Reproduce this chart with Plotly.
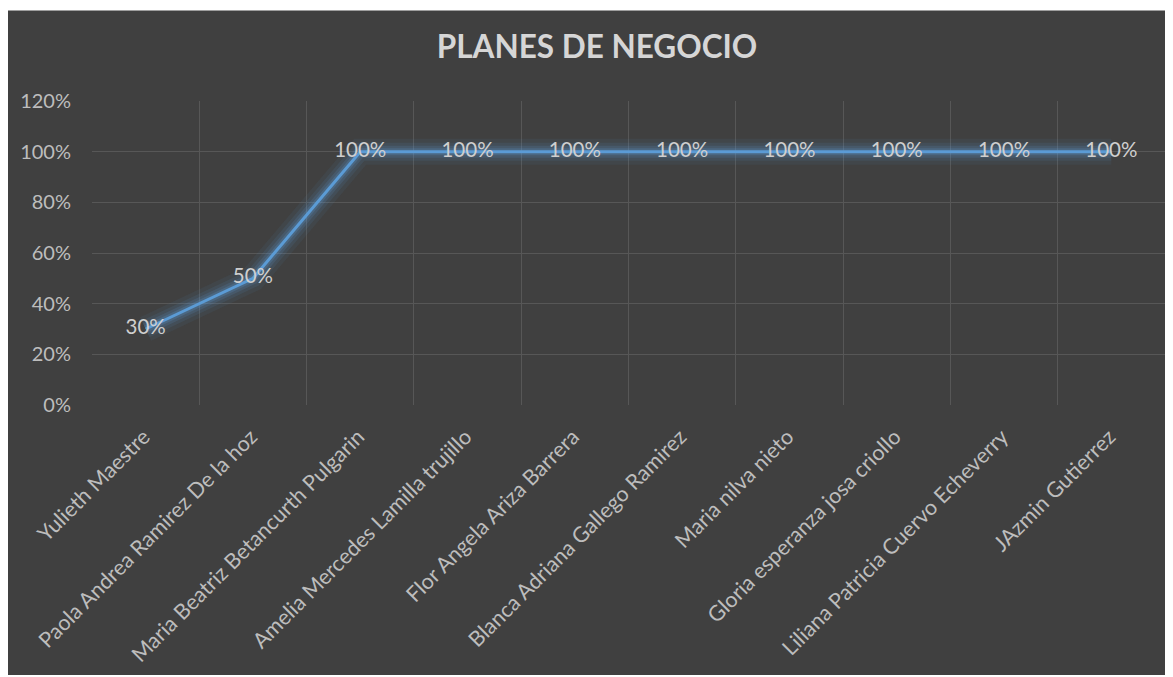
import plotly.graph_objects as go

names = ["Yulieth Maestre", "Paola Andrea Ramirez De la hoz", "Maria Beatriz Betancurth Pulgarin",
         "Amelia Mercedes Lamilla trujillo", "Flor Angela Ariza Barrera", "Blanca Adriana Gallego Ramirez",
         "Maria nilva nieto", "Gloria esperanza josa criollo", "Liliana Patricia Cuervo Echeverry",
         "JAzmin Gutierrez"]
values = [0.30, 0.50, 1.00, 1.00, 1.00, 1.00, 1.00, 1.00, 1.00, 1.00]
labels = [f"{round(v*100)}%" for v in values]

W, H = 1165, 667
ml, mr, mt, mb = 84, 8, 93, 268
pw, ph = W - ml - mr, H - mt - mb
BG = "#404040"
LINE = "#5B9BD5"
FONT = "Lato, Open Sans, sans-serif"

fig = go.Figure()
# glow layers
for w, a in [(26, 0.07), (18, 0.10), (12, 0.15), (7, 0.22)]:
    fig.add_trace(go.Scatter(x=names, y=values, mode="lines",
                             line=dict(color=f"rgba(91,155,213,{a})", width=w),
                             hoverinfo="skip", showlegend=False))
fig.add_trace(go.Scatter(x=names, y=values, mode="lines+text", text=labels,
                         textposition="middle center",
                         textfont=dict(family=FONT, size=20.5, color="#cfcfcf"),
                         line=dict(color=LINE, width=3), showlegend=False))

fig.update_layout(
    width=W, height=H,
    margin=dict(l=ml, r=mr, t=mt, b=mb),
    paper_bgcolor="white", plot_bgcolor=BG,
    title=dict(text="<b>PLANES DE NEGOCIO</b>", x=589 / W, xanchor="center",
               y=1 - 39 / H, yanchor="middle",
               font=dict(family=FONT, size=31.5, color="#d6d6d6")),
    xaxis=dict(type="category", tickson="boundaries", showgrid=True, gridcolor="#575757",
               gridwidth=1, range=[-0.5, 9.5], tickangle=-45, ticks="", showline=False,
               zeroline=False, ticklabelstandoff=14, ticklabelshift=-2,
               tickfont=dict(family=FONT, size=21.5, color="#bdbdbd")),
    yaxis=dict(range=[0, 1.2], dtick=0.2, tickformat=".0%", showgrid=True,
               gridcolor="#575757", gridwidth=1, zeroline=False, ticks="",
               ticklabelstandoff=20,
               tickfont=dict(family=FONT, size=20, color="#bdbdbd")),
    shapes=[dict(type="rect", xref="paper", yref="paper", layer="below",
                 x0=-ml / pw - 0.05, x1=1.05, y0=-mb / ph - 0.05, y1=(H - mb - 2) / ph,
                 fillcolor=BG, line=dict(width=0))],
)
fig.write_html("out.html")
